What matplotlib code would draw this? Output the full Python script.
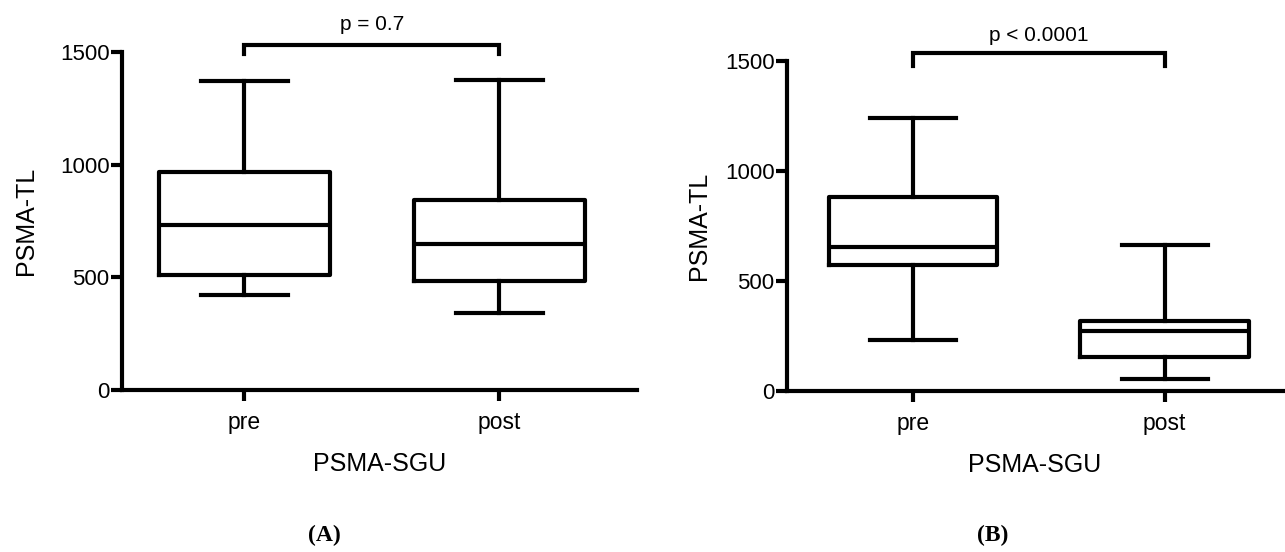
import matplotlib
matplotlib.use("Agg")
import matplotlib.pyplot as plt

plt.rcParams['font.family'] = ['Liberation Sans', 'DejaVu Sans']

categories = ["pre", "post"]
yticks = [0, 500, 1000, 1500]

# Panel A: whisker low, Q1, median, Q3, whisker high
a_low = [423, 342]
a_q1 = [510, 483]
a_med = [731, 649]
a_q3 = [966, 842]
a_high = [1371, 1377]
a_p = "p = 0.7"

# Panel B
b_low = [230, 53]
b_q1 = [571, 155]
b_med = [655, 273]
b_q3 = [883, 318]
b_high = [1239, 662]
b_p = "p < 0.0001"

LW = 3.0

def make_stats(low, q1, med, q3, high):
    return [dict(whislo=l, q1=a, med=m, q3=b, whishi=h, fliers=[])
            for l, a, m, b, h in zip(low, q1, med, q3, high)]

def draw(ax, stats, ptext, xlim, bar_y, leg_y, text_y, ylabpad):
    pos = list(range(len(categories)))
    style = dict(color='black', linewidth=LW)
    ax.bxp(stats, positions=pos, widths=0.67, capwidths=0.34,
           showfliers=False, boxprops=style, medianprops=style,
           whiskerprops=style, capprops=style)
    ax.set_xlim(*xlim)
    ax.set_ylim(0, 1500)
    ax.set_yticks(yticks)
    ax.set_xticks(pos)
    ax.set_xticklabels(categories, fontsize=16.5)
    ax.tick_params(axis='y', labelsize=16, length=8, width=LW, direction='out', pad=1)
    ax.tick_params(axis='x', length=8, width=LW, direction='out', pad=7)
    for s in ['top', 'right']:
        ax.spines[s].set_visible(False)
    for s in ['left', 'bottom']:
        ax.spines[s].set_linewidth(LW)
    ax.set_xlabel("PSMA-SGU", fontsize=18, labelpad=13)
    ax.set_ylabel("PSMA-TL", fontsize=18, labelpad=ylabpad)
    ax.plot([pos[0], pos[0], pos[1], pos[1]], [leg_y, bar_y, bar_y, leg_y],
            color='black', linewidth=LW, clip_on=False, solid_joinstyle='miter')
    ax.text((pos[0] + pos[1]) / 2, text_y, ptext, ha='center', va='center',
            fontsize=15, clip_on=False)

fig = plt.figure(figsize=(12.85, 5.52), dpi=100)
axA = fig.add_axes([0.0949, 0.2935, 0.4008, 0.6123])
axB = fig.add_axes([0.6125, 0.2917, 0.386, 0.5978])

draw(axA, make_stats(a_low, a_q1, a_med, a_q3, a_high), a_p, (-0.48, 1.54), 1531, 1490, 1620, 16)
draw(axB, make_stats(b_low, b_q1, b_med, b_q3, b_high), b_p, (-0.50, 1.47), 1536, 1477, 1617, 10)

fig.text(324 / 1285, 1 - 535 / 552, "(A)", fontsize=17, fontweight='bold',
         family='Liberation Serif', ha='center', va='center')
fig.text(993 / 1285, 1 - 535 / 552, "(B)", fontsize=17, fontweight='bold',
         family='Liberation Serif', ha='center', va='center')

fig.savefig("out.png", dpi=100)
